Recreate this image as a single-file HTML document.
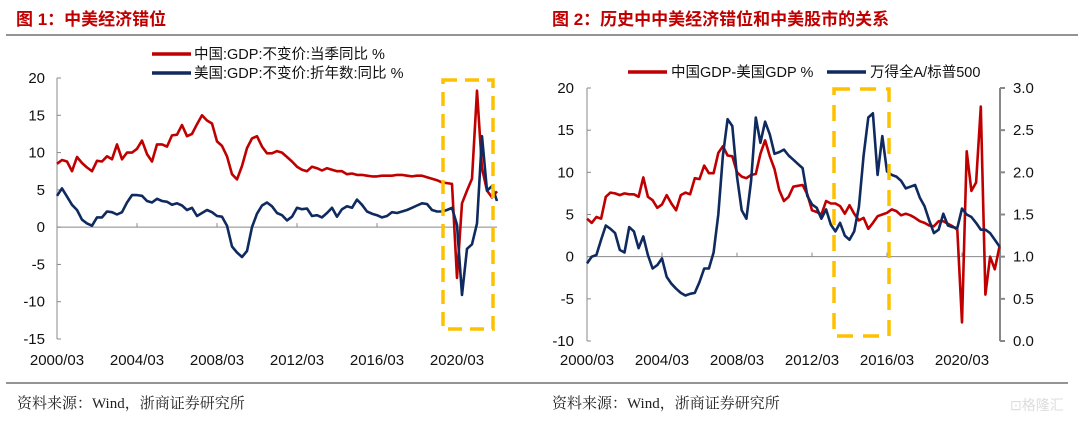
<!DOCTYPE html>
<html><head><meta charset="utf-8">
<style>
body{margin:0;background:#fff;width:1080px;height:422px;overflow:hidden;font-family:"Liberation Sans","Noto Sans CJK SC",sans-serif;}
svg{display:block}
</style></head>
<body>
<svg id="chart" width="1080" height="422" xmlns="http://www.w3.org/2000/svg" font-family="Liberation Sans, Noto Sans CJK SC, sans-serif">
<text x="16" y="25" font-size="17" font-weight="bold" fill="#C00000">图 1：中美经济错位</text>
<text x="552" y="25" font-size="17" font-weight="bold" fill="#C00000">图 2：历史中中美经济错位和中美股市的关系</text>
<line x1="6" y1="35" x2="1078" y2="35" stroke="#555" stroke-width="1.2"/>
<line x1="6" y1="383" x2="1068" y2="383" stroke="#555" stroke-width="1.2"/>
<text x="17" y="408" font-size="15" fill="#222" font-family="Liberation Serif, Noto Serif CJK SC, serif">资料来源：Wind，浙商证券研究所</text>
<text x="552" y="408" font-size="15" fill="#222" font-family="Liberation Serif, Noto Serif CJK SC, serif">资料来源：Wind，浙商证券研究所</text>
<text x="1010" y="410" font-size="14" fill="#ddd">⊡格隆汇</text>
<g id="c1"></g><g id="c2"></g>
</svg>
<script>
// Chart 1 data (quarterly from 2000Q1)
const chinaGdp = [8.5,9.0,8.8,7.5, 9.4,8.6,8.0,7.5, 8.9,8.8,9.5,9.1, 11.1,9.1,10.0,10.0, 10.5,11.6,9.8,8.8, 11.1,11.1,10.8,12.3, 12.4,13.7,12.2,12.5, 13.8,15.0,14.3,13.9, 11.5,10.9,9.5,7.1, 6.4,8.2,10.6,11.9, 12.2,10.8,9.9,9.9, 10.2,10.0,9.4,8.8, 8.1,7.7,7.5,8.1, 7.9,7.6,7.9,7.7, 7.5,7.5,7.1,7.2, 7.0,7.0,6.9,6.8, 6.8,6.9,6.9,6.9, 7.0,7.0,6.9,6.8, 6.9,6.9,6.7,6.5, 6.3,6.0,5.9,5.8, -6.8,3.2,4.9,6.5, 18.3,7.9,4.9,4.0, 4.8];
const usGdp = [4.2,5.2,4.1,3.0, 2.3,1.0,0.5,0.2, 1.3,1.3,2.1,2.0, 1.7,2.0,3.3,4.3, 4.3,4.2,3.5,3.3, 3.8,3.5,3.4,3.0, 3.2,2.9,2.3,2.6, 1.5,1.9,2.3,2.0, 1.5,1.4,0.2,-2.6, -3.4,-4.0,-3.2,0.0, 1.8,2.9,3.3,2.8, 1.9,1.6,0.9,1.4, 2.6,2.4,2.5,1.5, 1.6,1.3,1.9,2.6, 1.4,2.4,2.8,2.6, 3.7,3.0,2.1,1.8, 1.6,1.3,1.5,2.0, 1.9,2.1,2.3,2.6, 2.9,3.2,3.1,2.3, 2.1,2.1,2.3,2.6, 0.3,-9.1,-2.9,-2.3, 0.5,12.2,4.9,5.5, 3.5];
const yTicks1 = [20,15,10,5,0,-5,-10,-15];
const xTickLabels = ["2000/03","2004/03","2008/03","2012/03","2016/03","2020/03"];
// Chart 2 data
const gdpGap = [4.5,4.0,4.7,4.5, 7.1,7.6,7.5,7.3, 7.5,7.4,7.4,7.1, 9.4,7.1,6.7,5.8, 6.2,7.3,6.3,5.5, 7.3,7.6,7.4,9.3, 9.2,10.8,9.9,9.9, 12.3,13.1,12.0,11.9, 10.0,9.5,9.3,9.7, 9.8,12.2,13.8,11.9, 10.4,7.9,6.6,7.1, 8.3,8.4,8.5,7.4, 5.5,5.3,5.0,6.6, 6.3,6.3,6.0,5.1, 6.1,5.1,4.3,4.6, 3.3,4.0,4.8,5.0, 5.2,5.6,5.4,4.9, 5.1,4.9,4.6,4.2, 4.0,3.7,3.6,4.2, 4.2,3.9,3.6,3.2, -7.8,12.5,7.8,8.8, 17.8,-4.5,0.0,-1.5, 1.2];
const stockRatio = [0.92,1.00,1.02,1.20,1.37,1.33,1.28,1.08,1.05,1.35,1.30,1.10,1.24,1.02,0.86,0.90,0.98,0.76,0.68,0.62,0.57,0.54,0.56,0.57,0.70,0.86,0.86,1.05,1.50,2.20,2.63,2.55,1.95,1.55,1.45,1.90,2.65,2.35,2.60,2.45,2.22,2.24,2.27,2.20,2.15,2.10,2.05,1.72,1.62,1.58,1.45,1.56,1.38,1.30,1.40,1.25,1.20,1.30,1.59,2.20,2.65,2.70,1.97,2.43,2.01,1.97,1.95,1.90,1.81,1.83,1.85,1.70,1.60,1.43,1.28,1.32,1.51,1.37,1.35,1.34,1.57,1.50,1.47,1.40,1.32,1.32,1.28,1.20,1.12];
const yTicks2L = [20,15,10,5,0,-5,-10];
const yTicks2R = ["3.0","2.5","2.0","1.5","1.0","0.5","0.0"];

const NS="http://www.w3.org/2000/svg";
function mk(parent,tag,attrs){const e=document.createElementNS(NS,tag);for(const k in attrs)e.setAttribute(k,attrs[k]);parent.appendChild(e);return e;}
function pathFrom(vals,xf,yf){return vals.map((v,i)=>(i?'L':'M')+xf(i).toFixed(1)+','+yf(v).toFixed(1)).join('');}

// ---- Chart 1
(function(){
const g=document.getElementById('c1');
const x0=57,pxq=5,top=78,bot=339,ymax=20,ymin=-15;
const X=i=>x0+i*pxq, Y=v=>top+(ymax-v)/(ymax-ymin)*(bot-top);
let a=mk(g,'line',{x1:x0,y1:top,x2:x0,y2:bot,stroke:'#888'});

yTicks1.forEach(v=>{const t=mk(g,'line',{x1:x0,y1:Y(v),x2:x0+4,y2:Y(v),stroke:'#888'});

const l=mk(g,'text',{x:45,y:Y(v)+5,'font-size':15,'text-anchor':'end',fill:'#111'});l.textContent=v;
});
a=mk(g,'line',{x1:x0,y1:Y(0),x2:X(88),y2:Y(0),stroke:'#888'});

xTickLabels.forEach((s,k)=>{const x=X(k*16);const t=mk(g,'line',{x1:x,y1:Y(0)-4,x2:x,y2:Y(0),stroke:'#888'});

const l=mk(g,'text',{x:x,y:365,'font-size':15,'text-anchor':'middle',fill:'#111'});l.textContent=s;
});
let p=mk(g,'path',{d:pathFrom(chinaGdp,X,Y),fill:'none',stroke:'#C00000','stroke-width':2.6,'stroke-linejoin':'round'});

p=mk(g,'path',{d:pathFrom(usGdp,X,Y),fill:'none',stroke:'#0F2A5E','stroke-width':2.6,'stroke-linejoin':'round'});

const r=mk(g,'rect',{x:443,y:80,width:50,height:249,fill:'none',stroke:'#FFC000','stroke-width':3.5,'stroke-dasharray':'14 8'});

[[54,'#C00000','中国:GDP:不变价:当季同比 %','legend-china'],[73,'#0F2A5E','美国:GDP:不变价:折年数:同比 %','legend-us']].forEach(([y,c,s,n])=>{
const q=mk(g,'g',{});
mk(q,'line',{x1:152,y1:y,x2:191,y2:y,stroke:c,'stroke-width':3.5});
const l=mk(q,'text',{x:194,y:y+5,'font-size':14.5,fill:'#111'});l.textContent=s;});
})();

// ---- Chart 2
(function(){
const g=document.getElementById('c2');
const x0=587,pxq=4.6875,top=88,bot=341,xr=1000;
const X=i=>x0+i*pxq, Y=v=>top+(20-v)/30*(bot-top), YR=v=>top+(3-v)/3*(bot-top);
let a=mk(g,'line',{x1:x0,y1:top,x2:x0,y2:bot,stroke:'#888'});

a=mk(g,'line',{x1:xr,y1:top,x2:xr,y2:bot,stroke:'#888','stroke-width':2});

yTicks2L.forEach(v=>{const t=mk(g,'line',{x1:x0,y1:Y(v),x2:x0+4,y2:Y(v),stroke:'#888'});

const l=mk(g,'text',{x:574,y:Y(v)+5,'font-size':15,'text-anchor':'end',fill:'#111'});l.textContent=v;
});
yTicks2R.forEach(s=>{const v=parseFloat(s);const t=mk(g,'line',{x1:xr,y1:YR(v),x2:xr+5,y2:YR(v),stroke:'#888','stroke-width':2});

const l=mk(g,'text',{x:1013,y:YR(v)+5,'font-size':15,fill:'#111'});l.textContent=s;
});
a=mk(g,'line',{x1:x0,y1:Y(0),x2:xr,y2:Y(0),stroke:'#888'});

xTickLabels.forEach((s,k)=>{const x=X(k*16);const t=mk(g,'line',{x1:x,y1:Y(0)-4,x2:x,y2:Y(0),stroke:'#888'});

const l=mk(g,'text',{x:x,y:365,'font-size':15,'text-anchor':'middle',fill:'#111'});l.textContent=s;
});
let p=mk(g,'path',{d:pathFrom(gdpGap,X,Y),fill:'none',stroke:'#C00000','stroke-width':2.6,'stroke-linejoin':'round'});

p=mk(g,'path',{d:pathFrom(stockRatio,X,YR),fill:'none',stroke:'#0F2A5E','stroke-width':2.6,'stroke-linejoin':'round'});

const r=mk(g,'rect',{x:834,y:89,width:55,height:247,fill:'none',stroke:'#FFC000','stroke-width':3.5,'stroke-dasharray':'16 10'});

[[628,'#C00000','中国GDP-美国GDP %','legend-gdp-gap'],[827,'#0F2A5E','万得全A/标普500','legend-stock-ratio']].forEach(([x,c,s,n])=>{
const q=mk(g,'g',{});
mk(q,'line',{x1:x,y1:72,x2:x+39,y2:72,stroke:c,'stroke-width':3.5});
const l=mk(q,'text',{x:x+43,y:77,'font-size':14.5,fill:'#111'});l.textContent=s;});
})();
</script>
</body></html>
